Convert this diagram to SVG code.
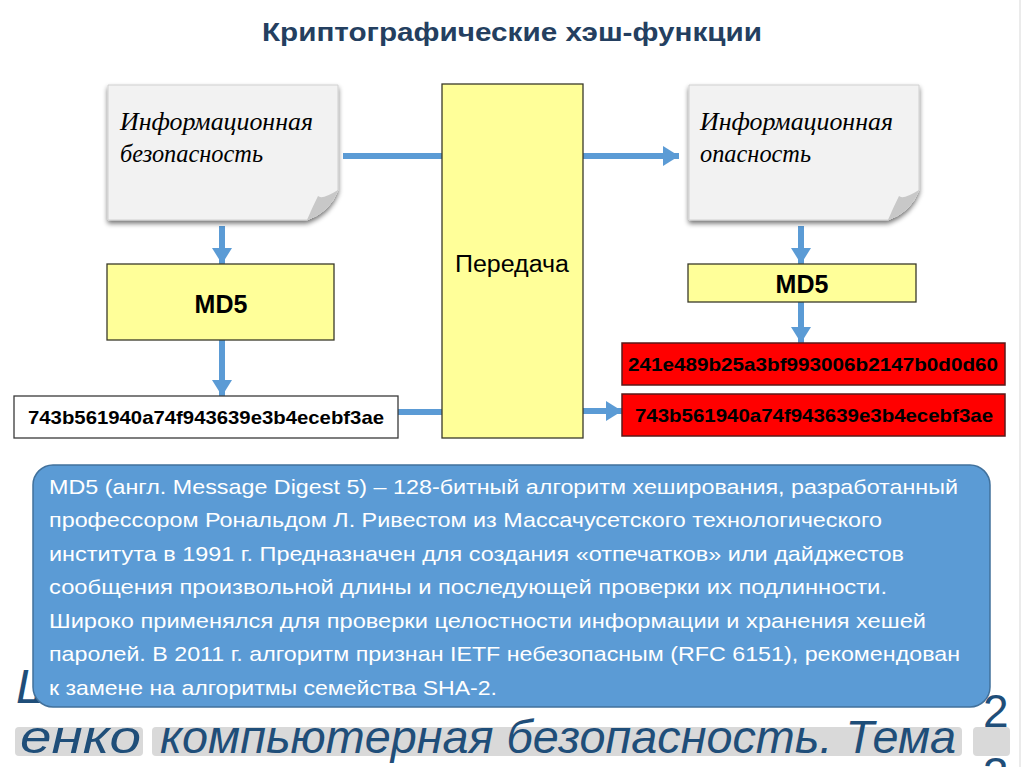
<svg xmlns="http://www.w3.org/2000/svg" width="1024" height="767" viewBox="0 0 1024 767">
<defs>
<marker id="ah" markerUnits="userSpaceOnUse" markerWidth="18" markerHeight="20" refX="16" refY="10" orient="auto">
<path d="M0,0 L16,10 L0,20 Z" fill="#5B9BD5"/>
</marker>
<filter id="sh" x="-10%" y="-10%" width="125%" height="130%">
<feGaussianBlur in="SourceAlpha" stdDeviation="2.5"/>
<feOffset dx="0" dy="3"/>
<feComponentTransfer><feFuncA type="linear" slope="0.55"/></feComponentTransfer>
<feMerge><feMergeNode/><feMergeNode in="SourceGraphic"/></feMerge>
</filter>
</defs>
<style>
.conn{stroke:#5B9BD5;stroke-width:6;fill:none}
.note{fill:#F2F2F2;stroke:#D0D0D0;stroke-width:1}
.fold{fill:#C8C8C8}
.nt{font-family:"Liberation Serif",serif;font-style:italic;font-size:25px;fill:#000}
.yb{fill:#FFFF99;stroke:#3a3a2a;stroke-width:1.3}
.md{font-family:"Liberation Sans",Arial,sans-serif;font-weight:bold;font-size:25px;fill:#000;text-anchor:middle}
.hash{font-family:"Liberation Sans",Arial,sans-serif;font-weight:bold;font-size:19px;fill:#000;text-anchor:middle}
.red{fill:#FF0000;stroke:#5a1a1a;stroke-width:1.5}
.desc{font-family:"Liberation Sans",Arial,sans-serif;font-size:21px;fill:#FFFFFF}
.bg{font-family:"Liberation Sans",Arial,sans-serif;font-style:italic;fill:#1F4E79}
.hl{fill:#D9D9D9}
</style>
<rect width="1024" height="767" fill="#FFFFFF"/>
<line x1="1020" y1="0" x2="1020" y2="767" stroke="#EBEBEB" stroke-width="2"/>

<!-- background footer text -->
<g id="footer">
<text class="bg" x="16" y="703" font-size="48">Ш</text>
<rect class="hl" x="15" y="727" width="128" height="29" rx="4"/>
<rect class="hl" x="152" y="727" width="810" height="29" rx="4"/>
<rect class="hl" x="973" y="727" width="37" height="29" rx="4"/>
<text class="bg" x="20" y="753" font-size="46" textLength="121" lengthAdjust="spacingAndGlyphs">енко</text>
<text class="bg" x="160" y="753" font-size="46" textLength="796" lengthAdjust="spacingAndGlyphs">компьютерная безопасность. Тема</text>
<text x="983" y="727" font-family="Liberation Sans,Arial,sans-serif" font-size="46" fill="#1F4E79">2</text>
<text x="983" y="790" font-family="Liberation Sans,Arial,sans-serif" font-size="46" fill="#1F4E79">3</text>
</g>

<text x="512" y="41" text-anchor="middle" font-family="Liberation Sans,Arial,sans-serif" font-weight="bold" font-size="25" fill="#243F60" textLength="500" lengthAdjust="spacingAndGlyphs">Криптографические хэш-функции</text>

<g id="connectors">
<line class="conn" x1="343" y1="156" x2="442" y2="156"/>
<line class="conn" x1="583" y1="156" x2="679" y2="156" marker-end="url(#ah)"/>
<line class="conn" x1="222" y1="226" x2="222" y2="264" marker-end="url(#ah)"/>
<line class="conn" x1="222" y1="340" x2="222" y2="396" marker-end="url(#ah)"/>
<line class="conn" x1="398" y1="412" x2="442" y2="412"/>
<line class="conn" x1="583" y1="411" x2="622" y2="411" marker-end="url(#ah)"/>
<line class="conn" x1="801" y1="226" x2="801" y2="264" marker-end="url(#ah)"/>
<line class="conn" x1="801" y1="302" x2="801" y2="343" marker-end="url(#ah)"/>
</g>

<g id="note-left">
<path class="note" filter="url(#sh)" d="M108,85 H338 V190 Q330,212 307,220 H108 Z"/>
<path class="fold" d="M338,190 Q322,200 318,196 Q312,208 307,220 Q330,212 338,190 Z"/>
<text class="nt" x="120" y="130" textLength="193" lengthAdjust="spacingAndGlyphs">Информационная</text>
<text class="nt" x="120" y="162" textLength="143" lengthAdjust="spacingAndGlyphs">безопасность</text>
</g>

<g id="note-right">
<path class="note" filter="url(#sh)" d="M689,85 H919 V190 Q911,212 888,220 H689 Z"/>
<path class="fold" d="M919,190 Q903,200 899,196 Q893,208 888,220 Q911,212 919,190 Z"/>
<text class="nt" x="700" y="130" textLength="193" lengthAdjust="spacingAndGlyphs">Информационная</text>
<text class="nt" x="700" y="162" textLength="111" lengthAdjust="spacingAndGlyphs">опасность</text>
</g>

<g id="transfer">
<rect class="yb" x="442" y="84" width="141" height="354"/>
<text x="512" y="272" text-anchor="middle" font-family="Liberation Sans,Arial,sans-serif" font-size="23" fill="#000" textLength="114" lengthAdjust="spacingAndGlyphs">Передача</text>
</g>

<g id="md5-left">
<rect class="yb" x="107" y="264" width="227" height="76"/>
<text class="md" x="221" y="313">MD5</text>
</g>

<g id="hash-left">
<rect x="14" y="396" width="384" height="42" fill="#FFFFFF" stroke="#3a3a3a" stroke-width="1.3"/>
<text class="hash" x="206" y="424" textLength="356" lengthAdjust="spacingAndGlyphs">743b561940a74f943639e3b4ecebf3ae</text>
</g>

<g id="md5-right">
<rect class="yb" x="688" y="264" width="228" height="38"/>
<text class="md" x="802" y="293">MD5</text>
</g>

<g id="hash-red-1">
<rect class="red" x="622" y="343" width="383" height="42"/>
<text class="hash" x="813" y="371" textLength="370" lengthAdjust="spacingAndGlyphs">241e489b25a3bf993006b2147b0d0d60</text>
</g>

<g id="hash-red-2">
<rect class="red" x="622" y="394" width="383" height="42"/>
<text class="hash" x="814" y="422" textLength="358" lengthAdjust="spacingAndGlyphs">743b561940a74f943639e3b4ecebf3ae</text>
</g>

<g id="description">
<rect x="33" y="465" width="957" height="242" rx="20" fill="#5B9BD5" stroke="#41719C" stroke-width="1.5"/>
<text class="desc" x="49" y="494" textLength="909" lengthAdjust="spacingAndGlyphs">MD5 (англ. Message Digest 5) – 128-битный алгоритм хеширования, разработанный</text>
<text class="desc" x="49" y="527" textLength="833" lengthAdjust="spacingAndGlyphs">профессором Рональдом Л. Ривестом из Массачусетского технологического</text>
<text class="desc" x="49" y="561" textLength="855" lengthAdjust="spacingAndGlyphs">института в 1991 г. Предназначен для создания «отпечатков» или дайджестов</text>
<text class="desc" x="49" y="594" textLength="838" lengthAdjust="spacingAndGlyphs">сообщения произвольной длины и последующей проверки их подлинности.</text>
<text class="desc" x="49" y="628" textLength="877" lengthAdjust="spacingAndGlyphs">Широко применялся для проверки целостности информации и хранения хешей</text>
<text class="desc" x="49" y="661" textLength="911" lengthAdjust="spacingAndGlyphs">паролей. В 2011 г. алгоритм признан IETF небезопасным (RFC 6151), рекомендован</text>
<text class="desc" x="49" y="695" textLength="448" lengthAdjust="spacingAndGlyphs">к замене на алгоритмы семейства SHA-2.</text>
</g>
</svg>
